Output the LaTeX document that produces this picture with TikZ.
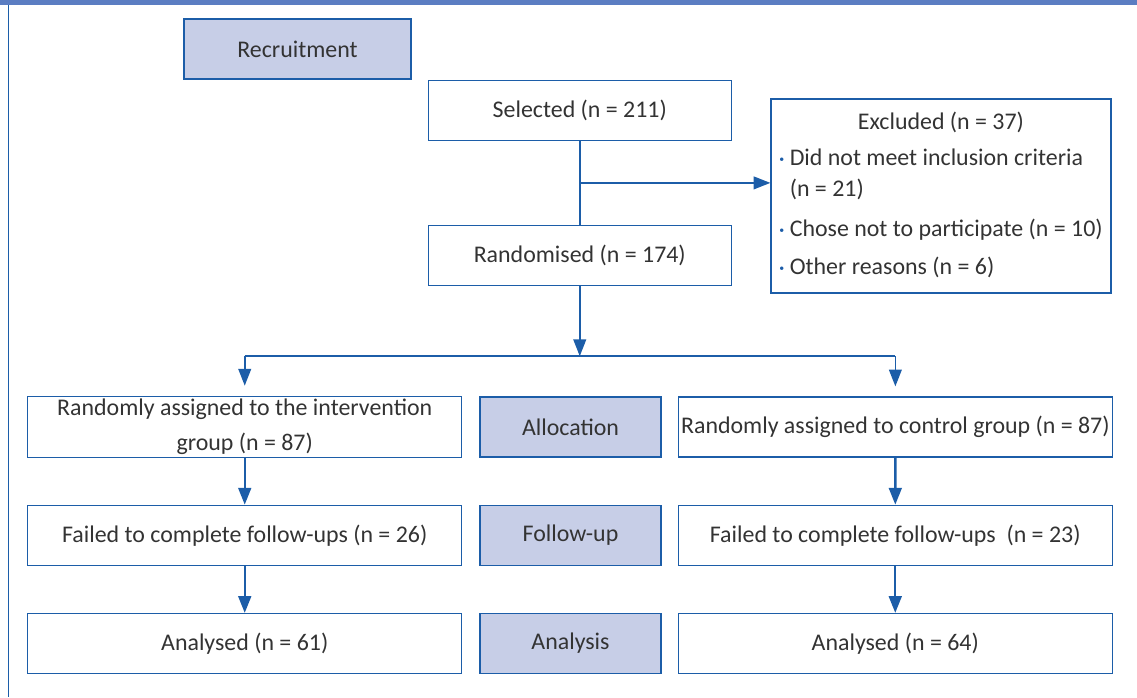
\documentclass[tikz,border=0pt]{standalone}
\usepackage{fontspec}
\setmainfont{Carlito}
\usepackage{tikz}
\usetikzlibrary{positioning, arrows.meta, calc}

\definecolor{flowblue}{HTML}{1C5DA8}
\definecolor{stagefill}{HTML}{C7CEE7}
\definecolor{barblue}{HTML}{5B7DC2}
\definecolor{txtgray}{HTML}{333333}
\newcommand{\exbullet}{\textcolor{flowblue}{\raisebox{0.25ex}{\scriptsize\textbullet}}}

\begin{document}
\begin{tikzpicture}[>={Triangle[length=0.42cm,width=0.32cm]}, node distance=1.175cm,
                    block/.style={rectangle, draw=flowblue, line width=0.9pt, text=txtgray, text centered, minimum height=1.5cm, inner sep=2pt, font=\fontsize{17}{20}\selectfont},
                    stage/.style={block, fill=stagefill, minimum width=4.525cm},
                    group/.style={block, minimum width=10.85cm},
                    flow/.style={->, draw=flowblue, line width=1.7pt},
                    link/.style={draw=flowblue, line width=1.1pt}]

  \useasboundingbox (0,0) rectangle (28.425,-17.425);
  \fill[barblue] (0,0) rectangle (28.425,-0.125);
  \draw[flowblue, line width=0.6pt] (0.2,-0.125) -- (0.2,-17.425);

  %Recruitment stage.
  \node[stage, minimum width=5.675cm] (rec) at (7.4375,-1.225) {Recruitment};
  \node[block, minimum width=7.575cm] (sel) [below right=0cm and 0.4cm of rec.south east] {Selected (n = 211)};
  \node[block, minimum width=7.575cm] (rand) [below=2.1cm of sel] {Randomised (n = 174)};
  \node[block, minimum width=8.5cm, minimum height=4.85cm] (excl) at (23.525,-4.9)
    {\begin{tabular}{@{}r@{\hspace{4pt}}l@{}}
       \multicolumn{2}{c}{Excluded (n = 37)}\\[6pt]
       \exbullet & Did not meet inclusion criteria\\[2pt]
                 & (n = 21)\\[8pt]
       \exbullet & Chose not to participate (n = 10)\\[7pt]
       \exbullet & Other reasons (n = 6)
     \end{tabular}};

  \draw[link] (sel) -- (rand);
  \coordinate (br) at ($(sel.south)!0.5!(rand.north)$);
  \draw[link, ->] (br) -- (br -| excl.west);

  %Allocation, follow-up and analysis rows.
  \node[stage] (alloc) at (14.2625,-10.675) {Allocation};
  \node[group, align=center] (intv) [left=0.425cm of alloc] {Randomly assigned to the intervention\\[5pt]group (n = 87)};
  \node[group] (ctrl) [right=0.4cm of alloc] {Randomly assigned to control group (n = 87)};

  \node[stage] (fup)  [below=of alloc] {Follow-up};
  \node[group] (fupl) [left=0.425cm of fup] {Failed to complete follow-ups (n = 26)};
  \node[group] (fupr) [right=0.4cm of fup]  {Failed to complete follow-ups~ (n = 23)};

  \node[stage] (ana)  [below=of fup] {Analysis};
  \node[group] (anal) [left=0.425cm of ana] {Analysed (n = 61)};
  \node[group] (anar) [right=0.4cm of ana]  {Analysed (n = 64)};

  \coordinate[below=1.75cm of rand.south] (split);
  \draw[link, ->] (rand) -- (split);
  \draw[link] (split -| intv) -- (split -| ctrl);
  \draw[link, ->, shorten >=0.25cm] (split -| intv) -- (intv);
  \draw[link, ->, shorten >=0.25cm] (split -| ctrl) -- (ctrl);

  \draw[flow] (intv) -- (fupl);
  \draw[flow] (ctrl) -- (fupr);
  \draw[flow] (fupl) -- (anal);
  \draw[flow] (fupr) -- (anar);

\end{tikzpicture}
\end{document}
